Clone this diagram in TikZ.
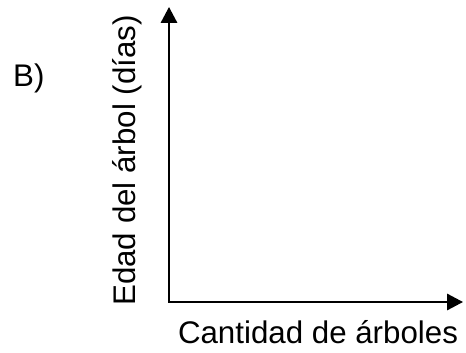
\documentclass[tikz,border=0pt]{standalone}
\usepackage{fontspec}
\setmainfont{Liberation Sans}
\usetikzlibrary{arrows.meta}

\tikzset{
  axis/.style={line width=2.8pt,black,{Triangle[length=0.8cm,width=0.82cm]}-{Triangle[length=0.8cm,width=0.82cm]}},
  axislabel/.style={inner sep=0pt,font=\fontsize{44.5}{52}\selectfont}
}

\begin{document}
\begin{tikzpicture}[x=0.05cm,y=-0.05cm]
\useasboundingbox (0,0) rectangle (466,353);

\coordinate (origin) at (169,302);
\coordinate (ytip) at (169,7);
\coordinate (xtip) at (463,302);

\draw[axis] (ytip) -- (origin) -- (xtip);

\node[axislabel,anchor=base,rotate=90] (ylabel) at (135,160.5) {Edad del árbol (días)};
\node[axislabel,anchor=base] (xlabel) at (318,343) {Cantidad de árboles};
\node[axislabel,anchor=base west] (part) at (13,87) {B)};
\end{tikzpicture}
\end{document}
